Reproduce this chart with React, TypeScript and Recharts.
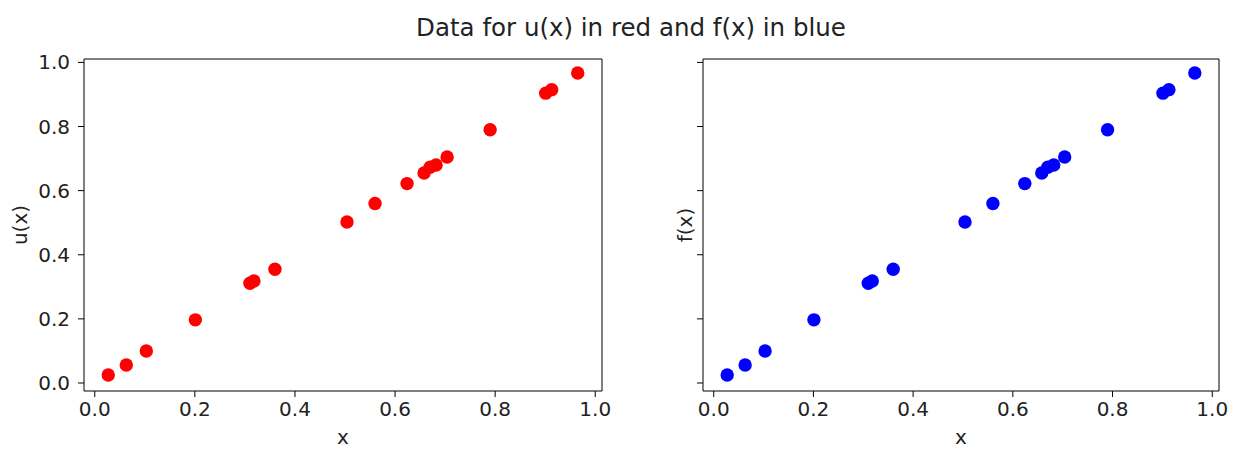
import React from 'react';
import { ScatterChart, Scatter, XAxis, YAxis, ReferenceLine } from 'recharts';

const xs = [0.027, 0.063, 0.103, 0.201, 0.31, 0.318, 0.36, 0.504, 0.56, 0.624, 0.658, 0.67, 0.682, 0.704, 0.79, 0.901, 0.913, 0.965];
const uValues = [0.025, 0.056, 0.1, 0.197, 0.311, 0.318, 0.355, 0.502, 0.56, 0.622, 0.655, 0.673, 0.68, 0.705, 0.79, 0.904, 0.915, 0.967];
const fValues = [0.025, 0.056, 0.1, 0.197, 0.311, 0.318, 0.355, 0.502, 0.56, 0.622, 0.655, 0.673, 0.68, 0.705, 0.79, 0.904, 0.915, 0.967];
const ticks = [0, 0.2, 0.4, 0.6, 0.8, 1.0];

const uData = xs.map((x, i) => ({ x, y: uValues[i] }));
const fData = xs.map((x, i) => ({ x, y: fValues[i] }));

const FONT = '"DejaVu Sans", sans-serif';
const TEXT = '#222';
const xDomain: [number, number] = [-0.0215, 1.0135];
const yDomain: [number, number] = [-0.025, 1.0106];

const dot = (color: string) => (props: any) => (
  <circle cx={props.cx} cy={props.cy} r={6.7} fill={color} />
);

interface PanelProps {
  data: { x: number; y: number }[];
  color: string;
  yLabel: string;
  width: number;
  yAxisWidth: number;
  rightMargin: number;
  showYTicks: boolean;
  labelOffset: number;
}

const Panel: React.FC<PanelProps> = ({ data, color, yLabel, width, yAxisWidth, rightMargin, showYTicks, labelOffset }) => (
  <ScatterChart width={width} height={450} margin={{ top: 59, right: rightMargin, left: 0, bottom: 0 }}>
    <XAxis
      type="number"
      dataKey="x"
      domain={xDomain}
      ticks={ticks}
      allowDataOverflow
      height={59}
      tickFormatter={(v: number) => v.toFixed(1)}
      tick={{ fill: TEXT, fontSize: 20, fontFamily: FONT }}
      tickSize={6}
      tickMargin={5}
      stroke="#000"
      label={{ value: 'x', position: 'insideBottom', offset: 6, fill: TEXT, fontSize: 20, fontFamily: FONT }}
    />
    <YAxis
      type="number"
      dataKey="y"
      domain={yDomain}
      ticks={ticks}
      allowDataOverflow
      width={yAxisWidth}
      tickFormatter={(v: number) => (showYTicks ? v.toFixed(1) : '')}
      tick={{ fill: TEXT, fontSize: 20, fontFamily: FONT }}
      tickSize={6}
      tickMargin={8}
      stroke="#000"
      label={{ value: yLabel, angle: -90, position: 'insideLeft', offset: labelOffset, fill: TEXT, fontSize: 20, fontFamily: FONT, style: { textAnchor: 'middle' } }}
    />
    {/* top and right spines of the box */}
    <ReferenceLine y={yDomain[1]} stroke="#000" strokeWidth={1} />
    <ReferenceLine x={xDomain[1]} stroke="#000" strokeWidth={1} />
    <Scatter data={data} fill={color} shape={dot(color)} isAnimationActive={false} />
  </ScatterChart>
);

export default function App() {
  return (
    <div style={{ position: 'absolute', left: 0, top: 0, width: 1235, height: 450, background: '#fff', fontFamily: FONT }}>
      <div style={{ position: 'absolute', left: 631, top: 16, transform: 'translateX(-50%)', whiteSpace: 'nowrap', fontSize: 24.5, lineHeight: '24px', color: TEXT }}>
        Data for u(x) in red and f(x) in blue
      </div>
      <div style={{ position: 'absolute', left: 0, top: 0 }}>
        <Panel data={uData} color="#ff0000" yLabel="u(x)" width={620} yAxisWidth={84} rightMargin={18} showYTicks labelOffset={20} />
      </div>
      <div style={{ position: 'absolute', left: 620, top: 0 }}>
        <Panel data={fData} color="#0000ff" yLabel="f(x)" width={615} yAxisWidth={83} rightMargin={16} showYTicks={false} labelOffset={65} />
      </div>
    </div>
  );
}
